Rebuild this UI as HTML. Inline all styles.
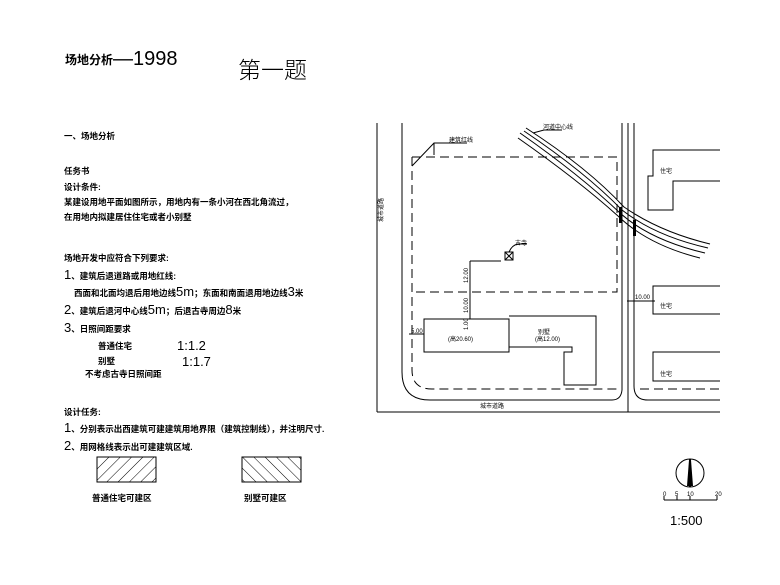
<!DOCTYPE html>
<html><head><meta charset="utf-8"><style>
html,body{margin:0;padding:0;background:#fff;}
svg{display:block;}
text{font-family:"Liberation Sans","Noto Sans CJK SC",sans-serif;fill:#000;}
.c{font-family:"Noto Sans CJK SC","WenQuanYi Zen Hei",sans-serif;font-weight:bold;}
.m{font-family:"Noto Sans CJK SC","WenQuanYi Zen Hei",sans-serif;}
</style></head><body>
<svg width="780" height="585" viewBox="0 0 780 585" xmlns="http://www.w3.org/2000/svg">
<defs>
<pattern id="h1" width="8" height="8" patternUnits="userSpaceOnUse" patternTransform="rotate(45)"><line x1="0" y1="0" x2="0" y2="8" stroke="#000" stroke-width="1"/></pattern>
<pattern id="h2" width="8" height="8" patternUnits="userSpaceOnUse" patternTransform="rotate(-45)"><line x1="0" y1="0" x2="0" y2="8" stroke="#000" stroke-width="1"/></pattern>
</defs>
<rect width="780" height="585" fill="#fff"/>
<text x="65" y="64" class="c" font-size="12">场地分析</text>
<text x="113" y="65" font-size="20" font-weight="normal">—1998</text>
<text x="238" y="78" font-size="23" font-family="Noto Sans CJK SC" font-weight="300">第一题</text>

<g class="c" font-size="8.5">
<text x="64" y="139">一、场地分析</text>
<text x="64" y="174">任务书</text>
<text x="64" y="190">设计条件:</text>
<text x="64" y="205">某建设用地平面如图所示，用地内有一条小河在西北角流过，</text>
<text x="64" y="220">在用地内拟建居住住宅或者小别墅</text>
<text x="64" y="261">场地开发中应符合下列要求:</text>
<text x="64" y="279"><tspan font-size="13" font-weight="normal">1</tspan>、建筑后退道路或用地红线:</text>
<text x="74" y="296">西面和北面均退后用地边线<tspan font-size="13" font-weight="normal">5m</tspan>；东面和南面退用地边线<tspan font-size="13" font-weight="normal">3</tspan>米</text>
<text x="64" y="314"><tspan font-size="13" font-weight="normal">2</tspan>、建筑后退河中心线<tspan font-size="13" font-weight="normal">5m</tspan>；后退古寺周边<tspan font-size="13" font-weight="normal">8</tspan>米</text>
<text x="64" y="332"><tspan font-size="13" font-weight="normal">3</tspan>、日照间距要求</text>
<text x="98" y="349">普通住宅</text>
<text x="98" y="364">别墅</text>
<text x="85" y="377">不考虑古寺日照间距</text>
<text x="64" y="415">设计任务:</text>
<text x="64" y="432"><tspan font-size="13" font-weight="normal">1</tspan>、分别表示出西建筑可建建筑用地界限（建筑控制线），并注明尺寸.</text>
<text x="64" y="450"><tspan font-size="13" font-weight="normal">2</tspan>、用网格线表示出可建建筑区域.</text>
<text x="92" y="501">普通住宅可建区</text>
<text x="244" y="501">别墅可建区</text>
</g>
<text x="177" y="350" font-size="13">1:1.2</text>
<text x="182" y="366" font-size="13">1:1.7</text>
<rect x="97" y="457" width="59" height="25" fill="url(#h1)" stroke="#000"/>
<rect x="242" y="457" width="59" height="25" fill="url(#h2)" stroke="#000"/>

<g fill="none" stroke="#000" stroke-width="1">
<line x1="377" y1="123" x2="377" y2="412"/>
<line x1="377" y1="412" x2="720" y2="412"/>
<path d="M402 123 V372 Q402 400 430 400 H612 Q621 400 622 390 V123"/>
<line x1="628" y1="123" x2="628" y2="412"/>
<path d="M634 123 V386 Q634 400 648 400 H720"/>
<g stroke-dasharray="9,5">
<path d="M412 157 H617 V292 H412"/>
<path d="M412 157 V370 Q412 389 432 389 H620"/>
<path d="M640 389 H720"/>
</g>
<rect x="424" y="319" width="85" height="33"/>
<path d="M509 316 H596 V385 H564 V352 H572 V347 H509"/>
<path d="M720 150 H653 V176 H648 V210 H673 V181 H720"/>
<path d="M720 286 H653 V314 H720"/>
<path d="M720 352 H653 V381 H720"/>
<path d="M520 133 Q580 175 620 213 Q650 240 705 253"/>
<path d="M524 131 Q585 172 622 210 Q655 236 708 248"/>
<path d="M518 138 Q578 180 618 216 Q648 245 700 258"/>
<path d="M526 128 Q588 168 624 207 Q660 232 710 244"/>
<path d="M470 261 V319"/>
<path d="M470 261 H501"/>
<path d="M470 319 H500"/>
<path d="M409 334 H424"/>
<path d="M627 301 H655"/>
<rect x="505" y="252" width="8" height="8"/>
<path d="M505 252 L513 260 M513 252 L505 260"/>
<path d="M509 252 Q512 245 518 244 H527"/>
<path d="M412 166 L434 143 H467"/>
<path d="M434 143 V155"/>
<path d="M533 133 L544 130 H562"/>
<circle cx="690" cy="473" r="14"/>
<line x1="664" y1="500" x2="717" y2="500"/>
<line x1="664" y1="496" x2="664" y2="500"/><line x1="677" y1="496" x2="677" y2="500"/><line x1="690" y1="496" x2="690" y2="500"/><line x1="717" y1="496" x2="717" y2="500"/>
</g>
<polygon points="689,460 691,460 693,486 687,486" fill="#000"/>
<line x1="690" y1="459" x2="690" y2="487" stroke="#000" stroke-width="2"/>
<rect x="619" y="207" width="3" height="16" fill="#000"/>
<rect x="633" y="220" width="3" height="16" fill="#000"/>
<g font-size="6" class="m">
<text x="449" y="142">建筑红线</text>
<text x="543" y="129">河道中心线</text>
<text x="515" y="245">古寺</text>
<text x="660" y="173">住宅</text>
<text x="660" y="308">住宅</text>
<text x="660" y="376">住宅</text>
<text x="538" y="334">别墅</text>
<text x="480" y="408">城市道路</text>
<text x="635" y="299">10.00</text>
<text x="411" y="333">5.00</text>
<text x="448" y="341">(高20.60)</text>
<text x="535" y="341">(高12.00)</text>
<text transform="translate(468,283) rotate(-90)">12.00</text>
<text transform="translate(468,313) rotate(-90)">10.00</text>
<text transform="translate(468,330) rotate(-90)">1.00</text>
<text transform="translate(383,222) rotate(-90)">城市道路</text>
</g>
<text x="663" y="496" font-size="6">0</text><text x="675" y="496" font-size="6">5</text><text x="687" y="496" font-size="6">10</text><text x="715" y="496" font-size="6">20</text>
<text x="670" y="525" font-size="13">1:500</text>
</svg>
</body></html>
